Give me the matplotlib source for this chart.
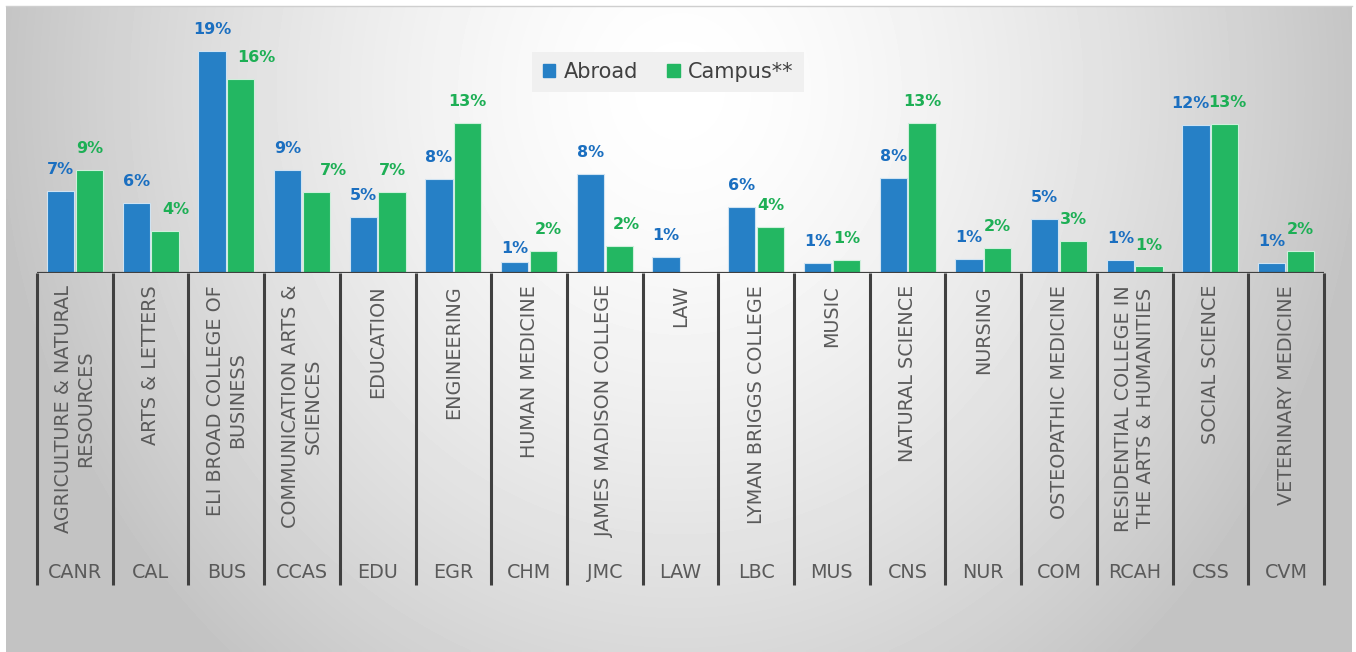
import numpy as np
import matplotlib.pyplot as plt
from matplotlib.patches import Patch
from matplotlib.transforms import blended_transform_factory

codes = ['CANR', 'CAL', 'BUS', 'CCAS', 'EDU', 'EGR', 'CHM', 'JMC', 'LAW',
         'LBC', 'MUS', 'CNS', 'NUR', 'COM', 'RCAH', 'CSS', 'CVM']
names = ['AGRICULTURE & NATURAL\nRESOURCES', 'ARTS & LETTERS',
         'ELI BROAD COLLEGE OF\nBUSINESS', 'COMMUNICATION ARTS &\nSCIENCES',
         'EDUCATION', 'ENGINEERING', 'HUMAN MEDICINE', 'JAMES MADISON COLLEGE',
         'LAW', 'LYMAN BRIGGS COLLEGE', 'MUSIC', 'NATURAL SCIENCE', 'NURSING',
         'OSTEOPATHIC MEDICINE', 'RESIDENTIAL COLLEGE IN\nTHE ARTS & HUMANITIES',
         'SOCIAL SCIENCE', 'VETERINARY MEDICINE']
abroad = [6.95, 5.88, 18.76, 8.69, 4.75, 7.93, 0.95, 8.33, 1.32,
          5.60, 0.82, 7.99, 1.21, 4.53, 1.07, 12.46, 0.82]
campus = [8.69, 3.57, 16.35, 6.86, 6.86, 12.63, 1.88, 2.28, 0.0,
          3.90, 1.07, 12.68, 2.08, 2.70, 0.55, 12.55, 1.88]

W, H = 1356, 652
BLUE, GREEN = '#2680C6', '#23B762'
BLUE_TXT, GREEN_TXT = '#1B6FC0', '#1DAF55'
GREY_TXT = '#5A5A5A'
LINE = '#404040'

fig = plt.figure(figsize=(W / 100, H / 100), dpi=100)

# radial grey background, white near the top centre
bg = fig.add_axes([0, 0, 1, 1])
bg.set_xlim(0, W)
bg.set_ylim(H, 0)
bg.axis('off')
gx, gy = np.meshgrid(np.linspace(6, 1352, 400), np.linspace(6, H, 200))
r = np.sqrt(((gx - 680) / 690) ** 2 + ((gy - 90) / 760) ** 2)
shade = 1 - 0.235 * np.clip(r, 0, 1) ** 1.5
bg.imshow(shade, cmap='gray', vmin=0, vmax=1, extent=[6, 1352, H, 6],
          aspect='auto', interpolation='bilinear')
bg.plot([6, 1352], [6, 6], color='#CFCFCF', lw=1)

# main axes: baseline at y=273 px, 11.85 px per percent
ax = fig.add_axes([37 / W, (H - 273) / H, 1287 / W, 263 / H])
ax.set_xlim(-0.5, 16.5)
ax.set_ylim(0, 263 / 11.85)
ax.axis('off')

x = np.arange(len(codes))
bw = 0.36
ax.bar(x - 0.19, abroad, bw, color=BLUE, edgecolor='#CFE3F2', lw=0.8, zorder=2)
ax.bar(x + 0.19, campus, bw, color=GREEN, edgecolor='#CFEFDC', lw=0.8, zorder=2)
ax.axhline(0, color=LINE, lw=2.3, zorder=3)

# value labels (a few nudged like the original)
campus_dx = {1: 8, 2: 11, 3: 12, 6: 3.6, 7: 5.4, 15: 2}
abroad_dx = {15: -4}
abroad_dy = {6: -5.7}
for i in x:
    ax.annotate(f'{int(abroad[i] + 0.5)}%', (i - 0.19, abroad[i]),
                xytext=(abroad_dx.get(i, 0), 12.2 + abroad_dy.get(i, 0)),
                textcoords='offset points', ha='center', va='baseline',
                fontsize=11.5, fontweight='bold', color=BLUE_TXT,
                annotation_clip=False)
    if campus[i] > 0:
        ax.annotate(f'{int(campus[i] + 0.5)}%', (i + 0.19, campus[i]),
                    xytext=(campus_dx.get(i, 0), 12.2), textcoords='offset points',
                    ha='center', va='baseline', fontsize=11.5, fontweight='bold',
                    color=GREEN_TXT, annotation_clip=False)

# two-level category axis
tr = blended_transform_factory(ax.transData, fig.transFigure)
for b in np.arange(len(codes) + 1) - 0.5:
    ax.plot([b, b], [(H - 273) / H, (H - 585) / H], color=LINE, lw=2.2,
            transform=tr, clip_on=False, solid_capstyle='butt')
for i in x:
    ax.text(i, (H - 285) / H, names[i], transform=tr, rotation=90,
            ha='center', va='top', multialignment='center',
            fontsize=13.8, color=GREY_TXT)
    ax.text(i, (H - 573) / H, codes[i], transform=tr, ha='center',
            va='center', fontsize=13.8, color=GREY_TXT)

handles = [Patch(color=BLUE), Patch(color=GREEN)]
leg = fig.legend(handles, ['Abroad', 'Campus**'], loc='center',
                 bbox_to_anchor=(668 / W, 1 - 72 / H), ncol=2, fontsize=15,
                 frameon=True, fancybox=False, facecolor='#F0F0F0',
                 edgecolor='none', framealpha=1, handlelength=0.6,
                 handleheight=0.6, handletextpad=0.4, columnspacing=1.4,
                 borderpad=0.5, labelcolor='#404040')

fig.savefig('out.png', dpi=100)
